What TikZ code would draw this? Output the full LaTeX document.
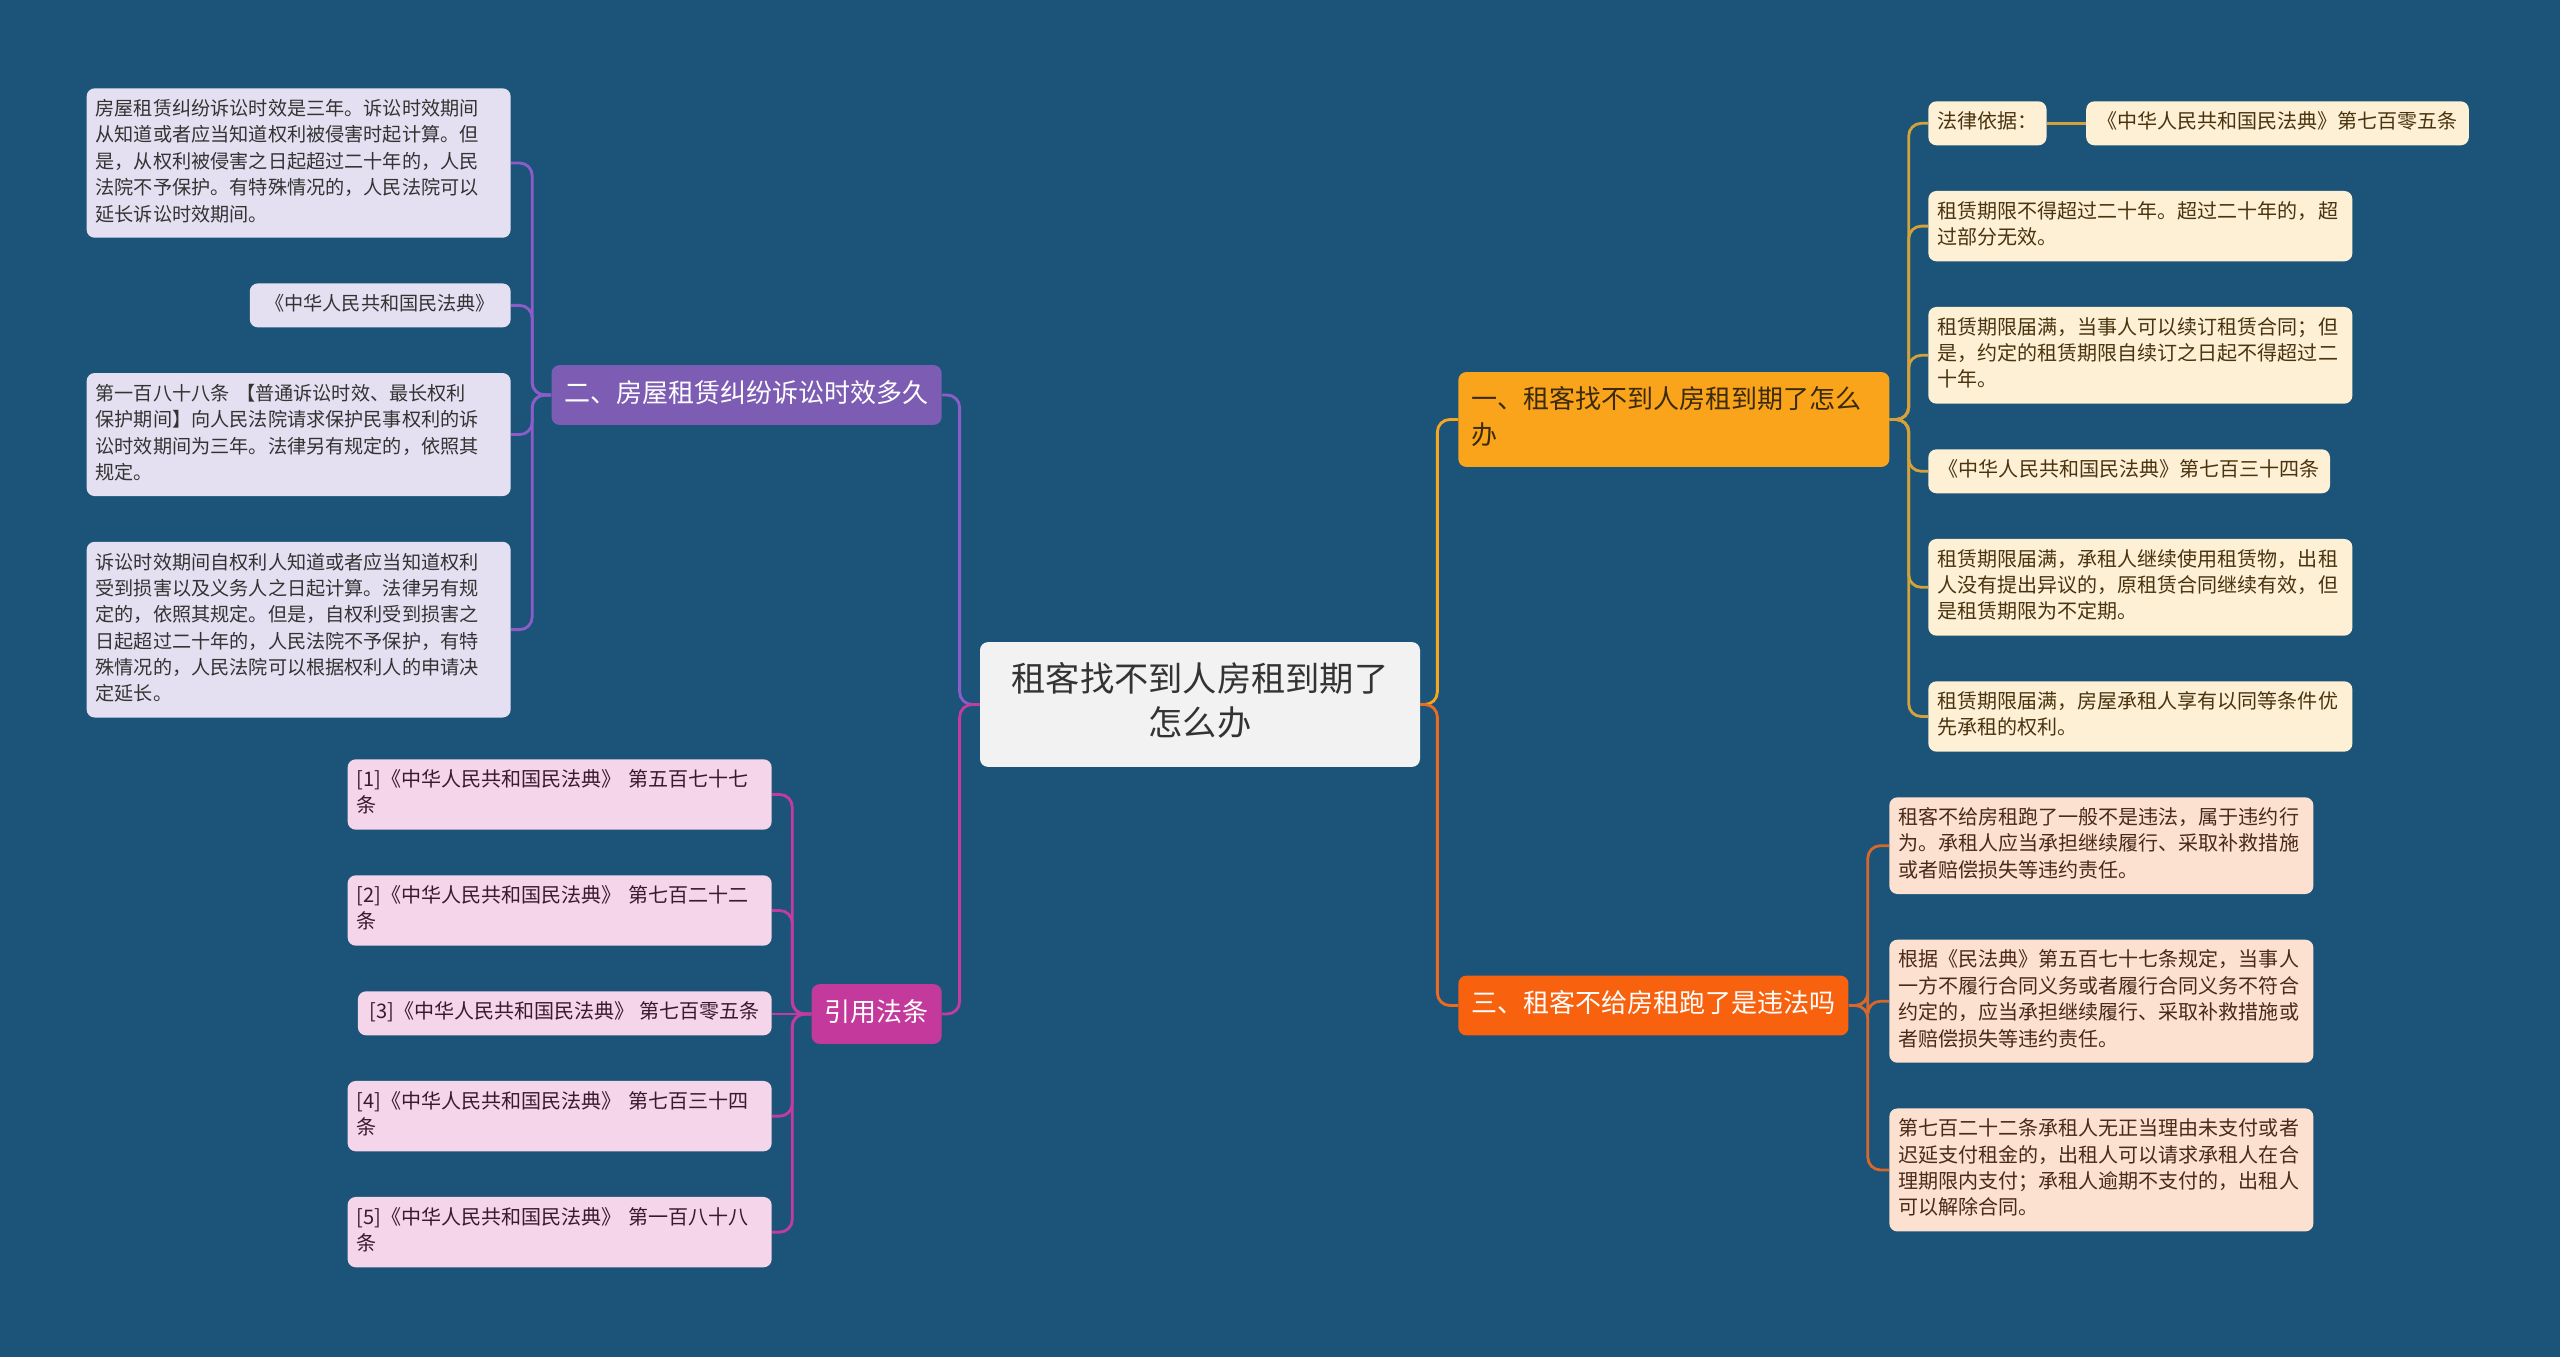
\documentclass[tikz,border=0pt]{standalone}
\usepackage{fontspec}
\usepackage{tikz}
\usepackage{xcolor}
\usetikzlibrary{positioning,calc}
\newfontfamily\cjk{Noto Sans CJK SC}
\definecolor{bgblue}{RGB}{27,84,120}
\definecolor{rootgray}{HTML}{F2F2F2}
\definecolor{rootink}{HTML}{333333}
\definecolor{b1fill}{HTML}{FAA41C}
\definecolor{b1ink}{HTML}{3B2A0C}
\definecolor{b2fill}{HTML}{7D5CB3}
\definecolor{b3fill}{HTML}{F8620F}
\definecolor{b4fill}{HTML}{C4399C}
\definecolor{p-fill}{HTML}{FDF0D5}
\definecolor{p-ink}{HTML}{4A3410}
\definecolor{q-fill}{HTML}{E4E0F1}
\definecolor{q-ink}{HTML}{333333}
\definecolor{s-fill}{HTML}{FDE1D0}
\definecolor{s-ink}{HTML}{4A2A18}
\definecolor{t-fill}{HTML}{F5D5EA}
\definecolor{t-ink}{HTML}{3A1A30}
\definecolor{c1}{HTML}{F6A623}
\definecolor{c2}{HTML}{8C5CC9}
\definecolor{c3}{HTML}{EE6A1F}
\definecolor{c4}{HTML}{C33AA1}
\definecolor{p-line}{HTML}{D3A23A}
\definecolor{s-line}{HTML}{D8672E}

\begin{document}
\begin{tikzpicture}[x=0.2mm,y=-0.2mm,
  execute at begin node=\strut, execute at end node=\strut,
  hub/.style={rectangle,rounded corners=1.6mm,fill=rootgray,text=rootink,inner xsep=3mm,inner ysep=10.5pt,text width=82mm,align=center,font=\cjk\fontsize{19.5}{25}\selectfont},
  br/.style={rectangle,rounded corners=1.6mm,inner xsep=2.6mm,inner ysep=7pt,align=left,font=\cjk\fontsize{14.8}{20}\selectfont},
  lf/.style={rectangle,rounded corners=1.6mm,inner xsep=1.8mm,inner ysep=5pt,align=left,font=\cjk\fontsize{11.4}{15}\selectfont},
  lq/.style={lf,fill=q-fill,text=q-ink,font=\cjk\fontsize{10.9}{15}\selectfont},
  wd/.style={text width=81.2mm},
  ln/.style={line width=1.6pt,rounded corners=2.5mm}]
\fill[bgblue] (0,0) rectangle (2560,1357);
\useasboundingbox (0,0) rectangle (2560,1357);
% root and branch nodes
\node[hub](root) at (1200,704.5){租客找不到人房租到期了\\怎么办};
\node[br,fill=b1fill,text=b1ink,text width=81mm,anchor=west](b1) at (1458,419.5){一、租客找不到人房租到期了怎么\\办};
\node[br,fill=b3fill,text=white,anchor=west](b3) at (1458,1005.5){三、租客不给房租跑了是违法吗};
\node[br,fill=b2fill,text=white,anchor=east](b2) at (942,395){二、房屋租赁纠纷诉讼时效多久};
\node[br,fill=b4fill,text=white,anchor=east](b4) at (942,1014){引用法条};
% leaves of b1
\node[lf,fill=p-fill,text=p-ink,anchor=north west](p1) at (1928,101){法律依据：};
\node[lf,fill=p-fill,text=p-ink,inner xsep=2.2mm,right=7.8mm of p1](p0){《中华人民共和国民法典》第七百零五条};
\node[lf,wd,fill=p-fill,text=p-ink,below right=9mm and 0mm of p1.south west](p2){租赁期限不得超过二十年。超过二十年的，超\\过部分无效。};
\node[lf,wd,fill=p-fill,text=p-ink,below right=9mm and 0mm of p2.south west](p3){租赁期限届满，当事人可以续订租赁合同；但\\是，约定的租赁期限自续订之日起不得超过二\\十年。};
\node[lf,fill=p-fill,text=p-ink,inner xsep=2.1mm,below right=9mm and 0mm of p3.south west](p4){《中华人民共和国民法典》第七百三十四条};
\node[lf,wd,fill=p-fill,text=p-ink,below right=9mm and 0mm of p4.south west](p5){租赁期限届满，承租人继续使用租赁物，出租\\人没有提出异议的，原租赁合同继续有效，但\\是租赁期限为不定期。};
\node[lf,wd,fill=p-fill,text=p-ink,below right=9mm and 0mm of p5.south west](p6){租赁期限届满，房屋承租人享有以同等条件优\\先承租的权利。};
% leaves of b3
\node[lf,wd,fill=s-fill,text=s-ink,anchor=north west](s1) at (1889,797){租客不给房租跑了一般不是违法，属于违约行\\为。承租人应当承担继续履行、采取补救措施\\或者赔偿损失等违约责任。};
\node[lf,wd,fill=s-fill,text=s-ink,below right=9mm and 0mm of s1.south west](s2){根据《民法典》第五百七十七条规定，当事人\\一方不履行合同义务或者履行合同义务不符合\\约定的，应当承担继续履行、采取补救措施或\\者赔偿损失等违约责任。};
\node[lf,wd,fill=s-fill,text=s-ink,below right=9mm and 0mm of s2.south west](s3){第七百二十二条承租人无正当理由未支付或者\\迟延支付租金的，出租人可以请求承租人在合\\理期限内支付；承租人逾期不支付的，出租人\\可以解除合同。};
% leaves of b2
\node[lq,wd,anchor=north east](q1) at (511,88){房屋租赁纠纷诉讼时效是三年。诉讼时效期间\\从知道或者应当知道权利被侵害时起计算。但\\是，从权利被侵害之日起超过二十年的，人民\\法院不予保护。有特殊情况的，人民法院可以\\延长诉讼时效期间。};
\node[lq,inner xsep=3.1mm,below left=9mm and 0mm of q1.south east](q2){《中华人民共和国民法典》};
\node[lq,wd,below left=9mm and 0mm of q2.south east](q3){第一百八十八条 【普通诉讼时效、最长权利\\保护期间】向人民法院请求保护民事权利的诉\\讼时效期间为三年。法律另有规定的，依照其\\规定。};
\node[lq,wd,below left=9mm and 0mm of q3.south east](q4){诉讼时效期间自权利人知道或者应当知道权利\\受到损害以及义务人之日起计算。法律另有规\\定的，依照其规定。但是，自权利受到损害之\\日起超过二十年的，人民法院不予保护，有特\\殊情况的，人民法院可以根据权利人的申请决\\定延长。};
% leaves of b4
\node[lf,wd,fill=t-fill,text=t-ink,anchor=north east](t1) at (772,759){[1]《中华人民共和国民法典》 第五百七十七\\条};
\node[lf,wd,fill=t-fill,text=t-ink,below left=9mm and 0mm of t1.south east](t2){[2]《中华人民共和国民法典》 第七百二十二\\条};
\node[lf,fill=t-fill,text=t-ink,inner xsep=2.4mm,below left=9mm and 0mm of t2.south east](t3){[3]《中华人民共和国民法典》 第七百零五条};
\node[lf,wd,fill=t-fill,text=t-ink,below left=9mm and 0mm of t3.south east](t4){[4]《中华人民共和国民法典》 第七百三十四\\条};
\node[lf,wd,fill=t-fill,text=t-ink,below left=9mm and 0mm of t4.south east](t5){[5]《中华人民共和国民法典》 第一百八十八\\条};
% edges
\draw[ln,c1](root.east)--++(17,0)|-(b1.west);
\draw[ln,c3](root.east)--++(17,0)|-(b3.west);
\draw[ln,c2](root.west)--++(-20,0)|-(b2.east);
\draw[ln,c4](root.west)--++(-20,0)|-(b4.east);
\foreach \n in {p1,p2,p3,p4,p5,p6}
  \draw[ln,p-line](b1.east)--++(19,0)|-(\n.west);
\draw[ln,p-line](p1)--(p0);
\foreach \n in {s1,s2,s3}
  \draw[ln,s-line](b3.east)--++(19,0)|-(\n.west);
\foreach \n in {q1,q2,q3,q4}
  \draw[ln,c2](b2.west)--++(-19,0)|-(\n.east);
\foreach \n in {t1,t2,t4,t5}
  \draw[ln,c4](b4.west)--++(-19,0)|-(\n.east);
\draw[ln,c4](b4.west)--(b4.west-|t3.east);
\end{tikzpicture}
\end{document}
